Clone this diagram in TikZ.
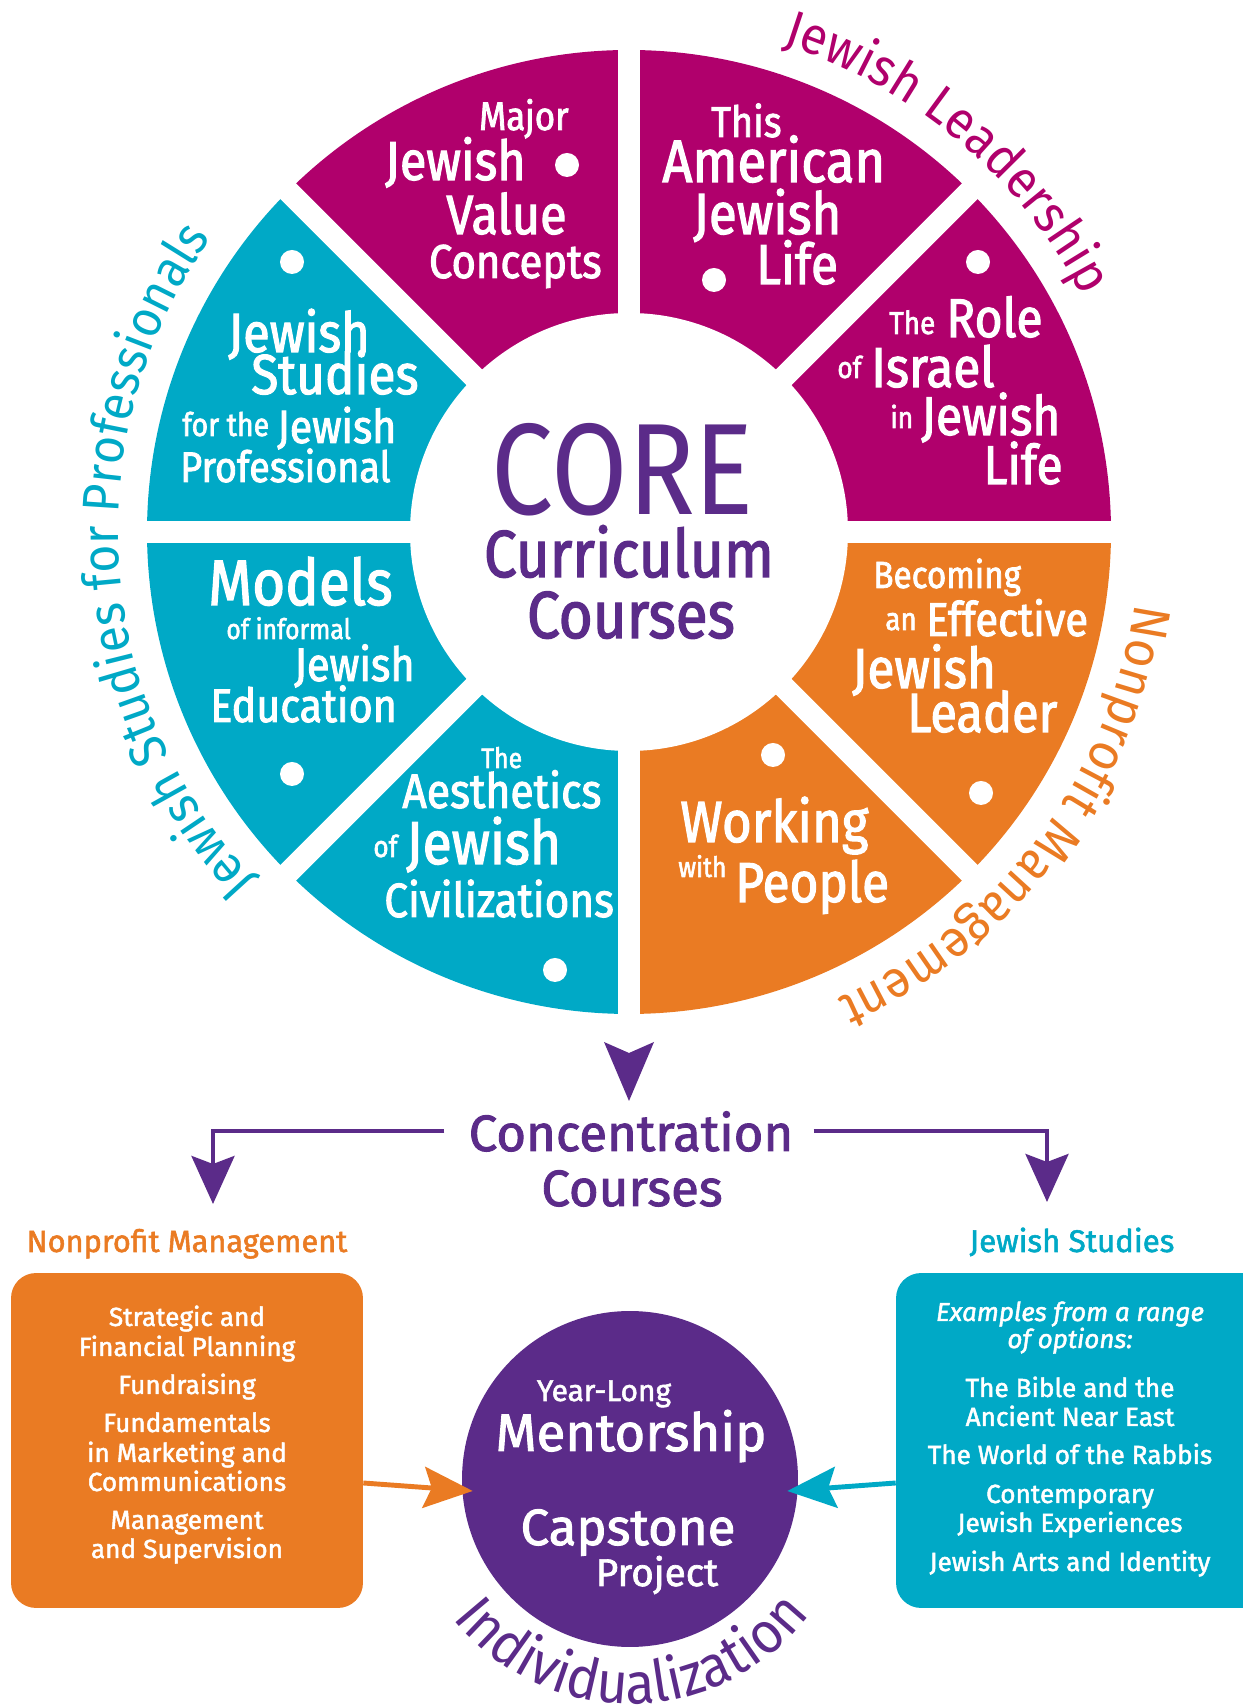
\documentclass[tikz,border=0pt]{standalone}
\usepackage{fontspec}
\setmainfont{Fira Sans}
\newfontfamily\condfam{Fira Sans}[FakeStretch=0.88,FakeBold=2]
\newfontfamily\corefam{Fira Sans}[FakeStretch=0.85]
\newfontfamily\medfam{Fira Sans}[FakeBold=1.8]
\newfontfamily\curvefam{Fira Sans}[FakeStretch=0.93]
\usetikzlibrary{arrows.meta,decorations.text}
\definecolor{leadmag}{RGB}{176,0,108}
\definecolor{studteal}{RGB}{0,169,198}
\definecolor{mgmtorange}{RGB}{234,123,35}
\definecolor{corepurple}{RGB}{91,43,137}
\newcommand\fsz[1]{\fontsize{#1}{#1}\selectfont}
\def\segfill[#1](#2:#3){\fill[#1] (629,1174) -- ++(#2:482) arc (#2:#3:482) -- cycle;}
\tikzset{
  segtxt/.style={text=white, inner sep=0pt, font=\condfam},
  boxtxt/.style={text=white, inner sep=0pt, anchor=base, font=\medfam\fsz{14.9}},
  conn/.style={line width=2.3pt, -{Stealth[length=0.96cm,width=0.86cm,inset=0.16cm]}},
}

\begin{document}
\begin{tikzpicture}[x=0.02cm, y=0.02cm]
			%%%%% START %%%%%
			\useasboundingbox (0,0) rectangle (1243,1706);
			\clip (0,0) rectangle (1243,1706);
			
			% wheel
			\segfill[leadmag](90:135)
			\segfill[leadmag](45:90)
			\segfill[leadmag](0:45)
			\segfill[mgmtorange](-45:0)
			\segfill[mgmtorange](-90:-45)
			\segfill[studteal](-135:-90)
			\segfill[studteal](180:225)
			\segfill[studteal](135:180)
			\draw[white, line width=12.5pt] (629,690) -- (629,1658);
			\draw[white, line width=12.5pt] (145,1174) -- (1113,1174);
			\draw[white, line width=12.5pt] (287,832) -- (971,1516);
			\draw[white, line width=12.5pt] (287,1516) -- (971,832);
			\fill[white] (629,1174) circle (219);
			
			\fill[white] (567,1541) circle (12);
			\fill[white] (714,1426) circle (12);
			\fill[white] (978,1444) circle (12);
			\fill[white] (292,1444) circle (12);
			\fill[white] (292,932) circle (12);
			\fill[white] (555,736) circle (12);
			\fill[white] (773,951) circle (12);
			\fill[white] (981,913) circle (12);
			
			\node[segtxt, anchor=base east] (mjr1) at (569,1576) {\fsz{22.6}Major};
			\node[segtxt, anchor=base east] (mjr2) at (526,1526) {\fsz{31.3}Jewish};
			\node[segtxt, anchor=base east] (mjr3) at (567,1472) {\fsz{31.5}Value};
			\node[segtxt, anchor=base east] (mjr4) at (602,1428) {\fsz{27}Concepts};
			
			\node[segtxt, anchor=base west] (am1) at (711,1569) {\fsz{24.5}This};
			\node[segtxt, anchor=base west] (am2) at (662,1524) {\fsz{34}American};
			\node[segtxt, anchor=base west] (am3) at (693,1472) {\fsz{33}Jewish};
			\node[segtxt, anchor=base west] (am4) at (756,1422) {\fsz{32}Life};
			
			\node[segtxt, anchor=base west] (ro1) at (889,1372) {\fsz{18}The};
			\node[segtxt, anchor=base west] (ro2) at (946,1369) {\fsz{31}Role};
			\node[segtxt, anchor=base west] (ro3) at (837,1328) {\fsz{17}of};
			\node[segtxt, anchor=base west] (ro4) at (871,1319) {\fsz{32}Israel};
			\node[segtxt, anchor=base west] (ro5) at (890,1278) {\fsz{17}in};
			\node[segtxt, anchor=base west] (ro6) at (921,1271) {\fsz{31}Jewish};
			\node[segtxt, anchor=base east] (ro7) at (1063,1222) {\fsz{31}Life};
			
			\node[segtxt, anchor=base west] (js1) at (228,1354) {\fsz{31.5}Jewish};
			\node[segtxt, anchor=base west] (js2) at (251,1312) {\fsz{32}Studies};
			\node[segtxt, anchor=base west] (js3) at (182,1270) {\fsz{18.4}for the};
			\node[segtxt, anchor=base west] (js4) at (277,1263) {\fsz{26.5}Jewish};
			\node[segtxt, anchor=base west] (js5) at (180,1224) {\fsz{24.4}Professional};
			
			\node[segtxt, anchor=base west] (mo1) at (208,1101) {\fsz{36.5}Models};
			\node[segtxt, anchor=base west] (mo2) at (226,1067) {\fsz{16}of informal};
			\node[segtxt, anchor=base west] (mo3) at (294,1025) {\fsz{26.8}Jewish};
			\node[segtxt, anchor=base west] (mo4) at (210,984) {\fsz{26.7}Education};
			
			\node[segtxt, anchor=base west] (ae1) at (481,938) {\fsz{16}The};
			\node[segtxt, anchor=base west] (ae2) at (402,898) {\fsz{27.6}Aesthetics};
			\node[segtxt, anchor=base west] (ae3) at (373,849) {\fsz{17}of};
			\node[segtxt, anchor=base west] (ae4) at (406,842) {\fsz{34.5}Jewish};
			\node[segtxt, anchor=base west] (ae5) at (384,789) {\fsz{27.3}Civilizations};
			
			\node[segtxt, anchor=base west] (be1) at (873,1118) {\fsz{21.5}Becoming};
			\node[segtxt, anchor=base west] (be2) at (885,1076) {\fsz{18}an};
			\node[segtxt, anchor=base west] (be3) at (926,1070) {\fsz{27}Effective};
			\node[segtxt, anchor=base west] (be4) at (852,1018) {\fsz{32}Jewish};
			\node[segtxt, anchor=base west] (be5) at (907,974) {\fsz{31.5}Leader};
			
			\node[segtxt, anchor=base west] (wo1) at (680,864) {\fsz{33}Working};
			\node[segtxt, anchor=base west] (wo2) at (678,829) {\fsz{16}with};
			\node[segtxt, anchor=base west] (wo3) at (735,804) {\fsz{32}People};
			
			\node[inner sep=0pt, anchor=base, text=corepurple, font=\corefam\fsz{74}] (core) at (623,1191) {CORE};
			\node[inner sep=0pt, anchor=base, text=corepurple, font=\condfam\fsz{37.8}] (curr) at (629,1129) {Curriculum};
			\node[inner sep=0pt, anchor=base, text=corepurple, font=\condfam\fsz{37.8}] (cour) at (631,1068) {Courses};
			
			% curved labels
			\begin{scope}[shift={(629,1174)}]
			\path[decorate, decoration={text along path, text align=center, text={|\curvefam\fsz{30}\color{leadmag}|Jewish Leadership}}] (95:511) arc (95:5:511);
			\path[decorate, decoration={text along path, text align=center, text={|\curvefam\fsz{30}\color{mgmtorange}|Nonprofit Management}}] (8:511) arc (8:-82:511);
			\path[decorate, decoration={text along path, text align=center, text={|\curvefam\fsz{29.5}\color{studteal}|Jewish Studies for Professionals}}] (234:511) arc (234:134:511);
			\end{scope}
			
			% concentration
			\fill[corepurple] (604,664) -- (629,605) -- (654,664) -- (629,653) -- cycle;
			\node[inner sep=0pt, anchor=base, text=corepurple, font=\medfam\fsz{29}] (conc1) at (631,555) {Concentration};
			\node[inner sep=0pt, anchor=base, text=corepurple, font=\medfam\fsz{29}] (conc2) at (632,500) {Courses};
			
			\node[inner sep=0pt, anchor=base, text=mgmtorange, font=\medfam\fsz{17.5}] (nplab) at (187,454) {Nonprofit Management};
			\node[inner sep=0pt, anchor=base, text=studteal, font=\medfam\fsz{17.8}] (jslab) at (1072,454) {Jewish Studies};
			\coordinate (nptip) at (213,502);
			\coordinate (jstip) at (1047,504);
			\draw[conn, corepurple] ([xshift=-0.48cm]conc1.west) -| (nptip);
			\draw[conn, corepurple] ([xshift=0.4cm]conc1.east) -| (jstip);
			
			% boxes
			\node[fill=mgmtorange, rounded corners=0.5cm, minimum width=7.04cm, minimum height=6.7cm] (npbox) at (187,265.5) {};
			\node[fill=studteal, rounded corners=0.5cm, minimum width=7.6cm, minimum height=6.7cm] (jsbox) at (1086,265.5) {};
			
			\node[boxtxt] (np1) at (187,380) {Strategic and};
			\node[boxtxt] (np2) at (187,350) {Financial Planning};
			\node[boxtxt] (np3) at (187,312) {Fundraising};
			\node[boxtxt] (np4) at (187,274) {Fundamentals};
			\node[boxtxt] (np5) at (187,244) {in Marketing and};
			\node[boxtxt] (np6) at (187,215) {Communications};
			\node[boxtxt] (np7) at (187,177) {Management};
			\node[boxtxt] (np8) at (187,148) {and Supervision};
			
			\node[boxtxt, font=\medfam\itshape\fsz{14.8}] (jb1) at (1070,385) {Examples from a range};
			\node[boxtxt, font=\medfam\itshape\fsz{14.8}] (jb2) at (1070,358) {of options:};
			\node[boxtxt] (jb3) at (1070,309) {The Bible and the};
			\node[boxtxt] (jb4) at (1070,280) {Ancient Near East};
			\node[boxtxt] (jb5) at (1070,242) {The World of the Rabbis};
			\node[boxtxt] (jb6) at (1070,203) {Contemporary};
			\node[boxtxt] (jb7) at (1070,174) {Jewish Experiences};
			\node[boxtxt] (jb8) at (1070,135) {Jewish Arts and Identity};
			
			% mentorship
			\node[circle, fill=corepurple, minimum size=6.72cm, inner sep=0pt] (mentor) at (630,227) {};
			\node[inner sep=0pt, anchor=base, text=white, font=\medfam\fsz{17}] (yl) at (604,305) {Year-Long};
			\node[inner sep=0pt, anchor=base, text=white, font=\medfam\fsz{30}] (ment) at (631,255) {Mentorship};
			\node[inner sep=0pt, anchor=base, text=white, font=\medfam\fsz{29}] (caps) at (628,161) {Capstone};
			\node[inner sep=0pt, anchor=base, text=white, font=\medfam\fsz{22}] (proj) at (657,120) {Project};
			
			\draw[line width=2.8pt, mgmtorange, -{Stealth[length=0.98cm,width=0.82cm,inset=0.16cm]}] ([yshift=-0.85cm]npbox.east) -- ([xshift=0.22cm,yshift=-0.24cm]mentor.west);
			\draw[line width=2.8pt, studteal, -{Stealth[length=0.98cm,width=0.82cm,inset=0.16cm]}] ([yshift=-0.85cm]jsbox.west) -- ([xshift=-0.22cm,yshift=-0.24cm]mentor.east);
			
			\begin{scope}[shift={(630,227)}]
			\path[decorate, decoration={text along path, text align=center, text={|\curvefam\fsz{33}\color{corepurple}|Individualization}}] (200:225) arc (200:341:225);
			\end{scope}
			%%%%% END %%%%%
\end{tikzpicture}
\end{document}
